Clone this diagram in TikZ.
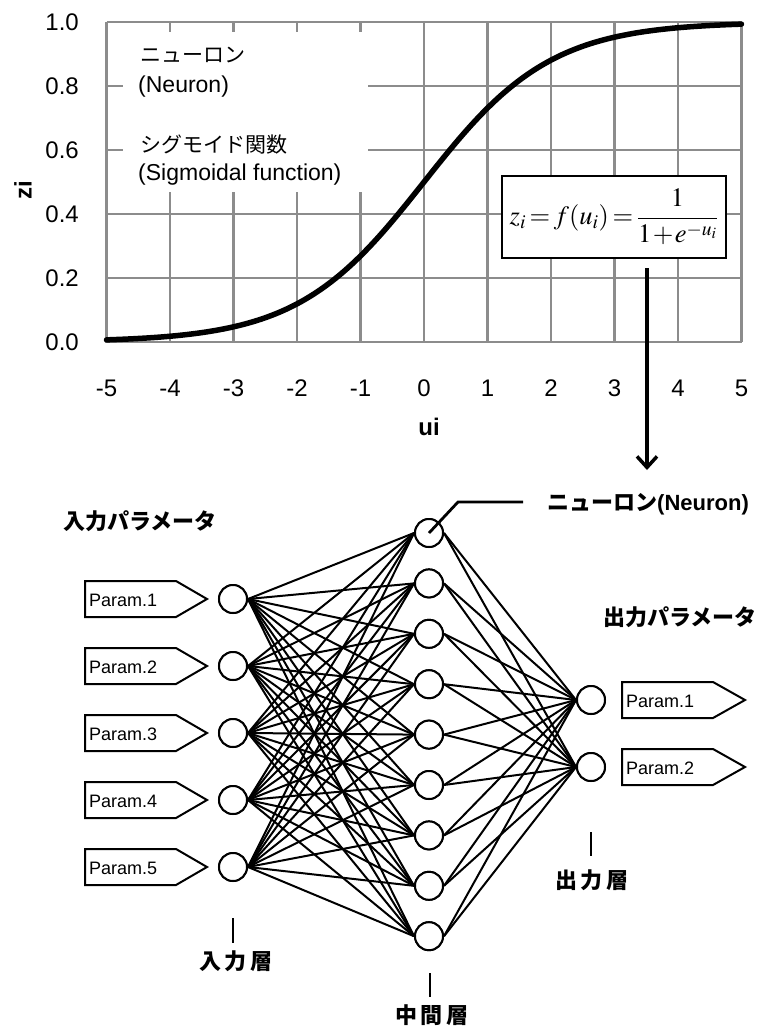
\documentclass[tikz,border=0pt]{standalone}
\usepackage{mathptmx}
\usepackage[no-math]{fontspec}
\setmainfont{Liberation Sans}
\newfontfamily\jp{Noto Sans CJK JP}
\usetikzlibrary{arrows.meta}
\definecolor{gridgray}{RGB}{140,140,140}
\begin{document}
\begin{tikzpicture}[x=1pt,y=-1pt,
  gridline/.style={draw=gridgray, line width=2.4pt},
  ticklab/.style={font=\fontsize{24}{24}\selectfont, inner sep=0pt},
  axislab/.style={font=\fontsize{24}{24}\selectfont\bfseries, inner sep=0pt},
  jptext/.style={font=\fontsize{21}{21}\selectfont\jp, inner sep=0pt, anchor=west},
  lattext/.style={font=\fontsize{23}{23}\selectfont, inner sep=0pt, anchor=west},
  jpbold/.style={font=\fontsize{22}{22}\selectfont\jp\bfseries, inner sep=0pt},
  neuron/.style={circle, draw, line width=2pt, minimum size=28pt, inner sep=0pt, fill=white},
  link/.style={line width=2pt},
  leader/.style={line width=2.8pt},
  paramline/.style={draw, line width=2pt, fill=white, line join=miter},
  paramtext/.style={font=\fontsize{18}{18}\selectfont, inner sep=0pt, anchor=west},
]
\useasboundingbox (0,0) rectangle (758,1026);
\fill[white] (0,0) rectangle (758,1026);

% ---------- chart ----------
\foreach \u in {-4,...,5} \draw[gridline] ({424+63.5*\u},22) -- ({424+63.5*\u},342);
\foreach \z in {0.2,0.4,0.6,0.8,1.0} \draw[gridline] (106.5,{342-320*\z}) -- (741.5,{342-320*\z});
\draw[gridline] (106.5,22) -- (106.5,342) -- (741.5,342);

\foreach \z/\t in {0/0.0,0.2/0.2,0.4/0.4,0.6/0.6,0.8/0.8,1/1.0}
  \node[ticklab, anchor=east] (yl\t) at (79,{342-320*\z}) {\t};
\foreach \u in {-5,...,5}
  \node[ticklab] (xl\u) at ({424+63.5*\u},388) {\u};
\node[axislab] (ui) at (429,427) {ui};
\node[axislab, rotate=90] (zi) at (23,190) {zi};

\fill[white] (123,32) rectangle (368,192);
\node[jptext] (t1) at (140,55) {ニューロン};
\node[lattext] (t2) at (138,87) {(Neuron)};
\node[jptext] (t3) at (140,145) {シグモイド関数};
\node[lattext] (t4) at (138,175) {(Sigmoidal function)};

\draw[line width=5.5pt, line cap=round] plot[domain=-5:5, samples=120, smooth]
  ({424+63.5*\x},{342-320/(1+exp(-\x))});

\node[draw, line width=2.5pt, fill=white, minimum width=224pt, minimum height=82pt, inner sep=0pt] (formula) at (614,217)
  {\fontsize{26.5}{31}\selectfont \thickmuskip=2.5mu \medmuskip=1mu $\displaystyle z_i=f(u_i)=\frac{1}{1+e^{-u_i}}$};

\coordinate (a1) at (647,268);
\coordinate (a2) at (647,470);
\draw[line width=3.5pt, -{Straight Barb[length=11pt,width=20pt,line width=3.5pt]}] (a1) -- (a2);

% ---------- network ----------
\node[jpbold] (inlab) at (140,521) {入力パラメータ};
\node[jpbold] (outlab) at (680,617) {出力パラメータ};
\node[inner sep=0pt, anchor=west] (neulab) at (547,504)
  {\fontsize{22}{22}\selectfont\jp\bfseries ニューロン\rmfamily\bfseries(Neuron)};

\foreach \i in {1,...,5} {
  \pgfmathsetmacro{\yy}{599+67*(\i-1)}
  \path[paramline] (85,\yy-18) -- (176,\yy-18) -- (207,\yy) -- (176,\yy+18) -- (85,\yy+18) -- cycle;
  \node[paramtext] (pin\i) at (89,\yy+1) {Param.\i};
}
\foreach \k in {1,2} {
  \pgfmathsetmacro{\yy}{700+67*(\k-1)}
  \path[paramline] (622,\yy-18) -- (713,\yy-18) -- (745,\yy) -- (713,\yy+18) -- (622,\yy+18) -- cycle;
  \node[paramtext] (pout\k) at (626,\yy+1) {Param.\k};
}

\foreach \i in {1,...,5} \node[neuron] (i\i) at (233,{599+67*(\i-1)}) {};
\foreach \j in {1,...,9} \node[neuron] (h\j) at (429,{533+50.4*(\j-1)}) {};
\foreach \k in {1,2} \node[neuron] (o\k) at (591,{700+67*(\k-1)}) {};

\foreach \i in {1,...,5} \foreach \j in {1,...,9} \draw[link] (i\i.east) -- (h\j.west);
\foreach \j in {1,...,9} \foreach \k in {1,2} \draw[link] (h\j.east) -- (o\k.west);
\foreach \i in {1,...,5} \node[neuron] at (i\i) {};
\foreach \j in {1,...,9} \node[neuron] at (h\j) {};
\foreach \k in {1,2} \node[neuron] at (o\k) {};

\coordinate (l1) at (458,502);
\coordinate (l2) at (523,502);
\draw[leader] (h1.center) -- (l1) -- (l2);

\coordinate (c1a) at (233,918); \coordinate (c1b) at (233,943);
\draw[link] (c1a) -- (c1b);
\node[jpbold] (L1) at (236,961) {入\,力\,層};
\coordinate (c2a) at (430,973); \coordinate (c2b) at (430,997);
\draw[link] (c2a) -- (c2b);
\node[jpbold] (L2) at (432,1015) {中\,間\,層};
\coordinate (c3a) at (591,832); \coordinate (c3b) at (591,856);
\draw[link] (c3a) -- (c3b);
\node[jpbold] (L3) at (592,880) {出\,力\,層};
\end{tikzpicture}
\end{document}
